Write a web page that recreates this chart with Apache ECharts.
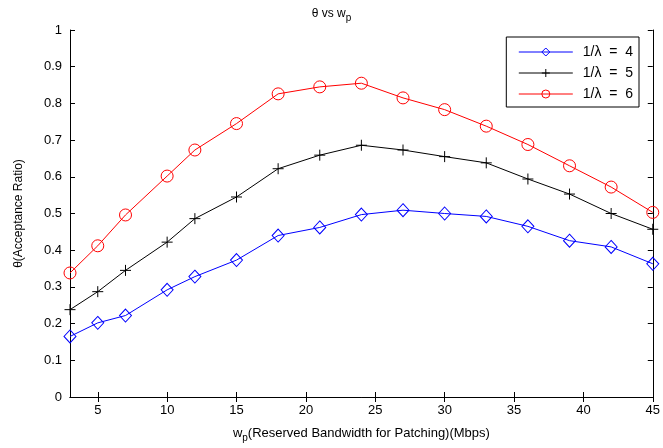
<!DOCTYPE html>
<html><head><meta charset="utf-8">
<script src="https://cdn.jsdelivr.net/npm/echarts@6/dist/echarts.min.js"></script>
<style>html,body{margin:0;padding:0;background:#fff}#c{width:663px;height:448px}</style>
</head><body><div id="c"></div>
<script>
var xValues = [3,5,7,10,12,15,18,21,24,27,30,33,36,39,42,45];
var lambda4 = [0.165,0.202,0.222,0.292,0.328,0.373,0.440,0.462,0.497,0.509,0.500,0.492,0.465,0.426,0.409,0.363];
var lambda5 = [0.238,0.287,0.345,0.422,0.486,0.545,0.622,0.659,0.686,0.673,0.655,0.638,0.594,0.553,0.500,0.457];
var lambda6 = [0.338,0.412,0.496,0.602,0.673,0.745,0.826,0.845,0.855,0.815,0.783,0.738,0.688,0.630,0.572,0.503];
var xTicks = [5,10,15,20,25,30,35,40,45];
var seriesNames = ['1/\u03bb  =  4','1/\u03bb  =  5','1/\u03bb  =  6'];

function pairs(v){ return xValues.map(function(x,i){return [x,v[i]];}); }
var F = 'Liberation Sans, Arial, sans-serif';
var chart = echarts.init(document.getElementById('c'));
var axisCommon = {
  axisLine:{show:true,lineStyle:{color:'#000',width:1}},
  axisTick:{show:true,inside:true,length:5,lineStyle:{color:'#000'}},
  splitLine:{show:false}
};
chart.setOption({
  animation:false,
  backgroundColor:'#fff',
  textStyle:{fontFamily:F},
  title:{
    text:'{a|\u03b8 vs w}{b|p}', left:'center', top:0,
    textStyle:{fontWeight:'normal',rich:{a:{fontSize:12,fontFamily:F,color:'#000',fontWeight:'normal'},b:{fontSize:10,fontFamily:F,color:'#000',fontWeight:'normal',padding:[8,0,0,0]}}}
  },
  grid:{left:70,right:8,top:30,bottom:50},
  legend:{
    right:24, top:37, orient:'vertical', itemGap:7, itemWidth:54, itemHeight:10,
    padding:[8,6,6,12],
    borderColor:'#000', borderWidth:1, backgroundColor:'#fff',
    lineStyle:{width:1},
    itemStyle:{borderWidth:1},
    textStyle:{fontSize:14,fontFamily:F,color:'#000',padding:[0,0,0,5]},
    data:seriesNames
  },
  xAxis:[
    Object.assign({type:'value',min:3,max:45,position:'bottom',
      name:'{a|w}{b|p}{a|(Reserved Bandwidth for Patching)(Mbps)}',
      nameLocation:'middle', nameGap:27,
      nameTextStyle:{rich:{a:{fontSize:13,fontFamily:F,color:'#000'},b:{fontSize:10,fontFamily:F,color:'#000',padding:[9,0,0,0]}}},
      axisLabel:{color:'#000',fontSize:13,fontFamily:F,margin:7,customValues:xTicks}
    },axisCommon,{axisTick:{show:true,inside:true,length:5,lineStyle:{color:'#000'},customValues:xTicks}}),
    Object.assign({type:'value',min:3,max:45,position:'top',axisLabel:{show:false}},axisCommon,
      {axisTick:{show:true,inside:true,length:5,lineStyle:{color:'#000'},customValues:xTicks}})
  ],
  yAxis:[
    Object.assign({type:'value',min:0,max:1,interval:0.1,position:'left',
      name:'\u03b8(Acceptance Ratio)', nameLocation:'middle', nameGap:45,
      nameTextStyle:{fontSize:12,fontFamily:F,color:'#000'},
      axisLabel:{color:'#000',fontSize:13,fontFamily:F,margin:8,formatter:function(v){return String(Math.round(v*10)/10);}}
    },axisCommon),
    Object.assign({type:'value',min:0,max:1,interval:0.1,position:'right',axisLabel:{show:false}},axisCommon)
  ],
  series:[
    {name:seriesNames[0],type:'line',data:pairs(lambda4),symbol:'diamond',symbolSize:[12,13],
      lineStyle:{color:'#0000ff',width:1},itemStyle:{color:'rgba(255,255,255,0)',borderColor:'#0000ff',borderWidth:1},z:3},
    {name:seriesNames[1],type:'line',data:pairs(lambda5),symbol:'path://M0,5L10,5M5,0L5,10',symbolSize:11,
      lineStyle:{color:'#000',width:1},itemStyle:{color:'rgba(0,0,0,0)',borderColor:'#000',borderWidth:1},z:3},
    {name:seriesNames[2],type:'line',data:pairs(lambda6),symbol:'circle',symbolSize:12,
      lineStyle:{color:'#ff0000',width:1},itemStyle:{color:'rgba(255,255,255,0)',borderColor:'#ff0000',borderWidth:1},z:3}
  ]
});
</script></body></html>
